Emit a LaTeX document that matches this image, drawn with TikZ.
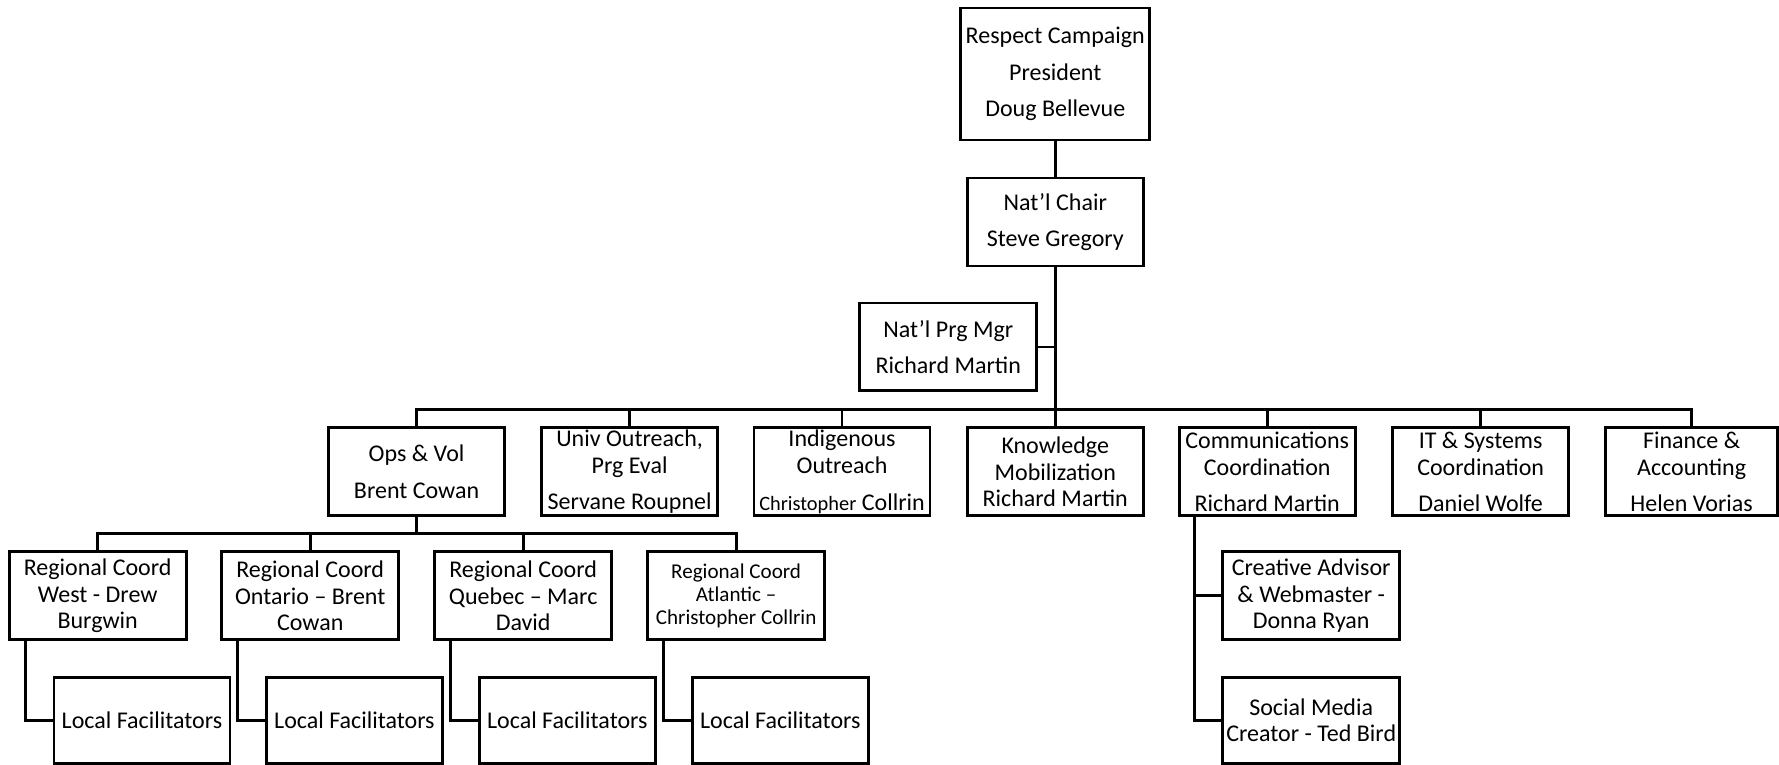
\documentclass[tikz,border=0pt]{standalone}
\usepackage{fontspec}
\setmainfont{Carlito}
\usepackage{tikz}
\tikzset{
  every picture/.style={line join=miter},
  orgbox/.style={draw, line width=0.8pt, inner sep=0pt, align=center, minimum width=1.76cm, minimum height=0.88cm, font=\fontsize{6.83pt}{7.6pt}\selectfont},
  link/.style={line width=0.8pt},
}

\begin{document}
\begin{tikzpicture}
\fill[white](0.000,0.000) rectangle (17.790,7.650);
% top of the chart
\node[orgbox,minimum width=1.89cm,minimum height=1.32cm] (pres) at (10.555,6.910) {Respect Campaign\\[2.8pt]President\\[2.8pt]Doug Bellevue};
\node[orgbox] (chair) at (10.555,5.430) {Nat’l Chair\\[2.8pt]Steve Gregory};
\node[orgbox,minimum width=1.77cm] (mgr) at (9.485,4.180) {Nat’l Prg Mgr\\[2.8pt]Richard Martin};
% second row
\node[orgbox] (ops) at (4.167,2.930) {Ops \& Vol\\[2.8pt]Brent Cowan};
\node[orgbox] (univ) at (6.297,2.930) {Univ Outreach,\\Prg Eval\\[2.8pt]Servane Roupnel};
\node[orgbox] (indig) at (8.422,2.930) {Indigenous\\Outreach\\[2.8pt]{\fontsize{5.8pt}{7.6pt}\selectfont Christopher} Collrin};
\node[orgbox] (know) at (10.555,2.930) {Knowledge\\Mobilization\\Richard Martin};
\node[orgbox] (comm) at (12.675,2.930) {Communications\\Coordination\\[2.8pt]Richard Martin};
\node[orgbox] (it) at (14.810,2.930) {IT \& Systems\\Coordination\\[2.8pt]Daniel Wolfe};
\node[orgbox,minimum width=1.72cm] (fin) at (16.920,2.930) {Finance \&\\Accounting\\[2.8pt]Helen Vorias};
% regions
\node[orgbox,minimum width=1.77cm] (west) at (0.977,1.690) {Regional Coord\\West - Drew\\Burgwin};
\node[orgbox,minimum width=1.77cm] (ont) at (3.103,1.690) {Regional Coord\\Ontario – Brent\\Cowan};
\node[orgbox,minimum width=1.77cm] (queb) at (5.233,1.690) {Regional Coord\\Quebec – Marc\\David};
\node[orgbox,minimum width=1.77cm,font=\fontsize{6pt}{6.6pt}\selectfont] (atl) at (7.363,1.690) {Regional Coord\\Atlantic –\\Christopher Collrin};
\node[orgbox,minimum height=0.86cm] (lfwest) at (1.420,0.445) {Local Facilitators};
\node[orgbox,minimum height=0.86cm] (lfont) at (3.545,0.445) {Local Facilitators};
\node[orgbox,minimum height=0.86cm] (lfqueb) at (5.675,0.445) {Local Facilitators};
\node[orgbox,minimum height=0.86cm] (lfatl) at (7.805,0.445) {Local Facilitators};
% communications team
\node[orgbox,minimum width=1.77cm] (creative) at (13.115,1.690) {Creative Advisor\\\& Webmaster -\\Donna Ryan};
\node[orgbox,minimum width=1.77cm,minimum height=0.86cm] (social) at (13.115,0.445) {Social Media\\Creator - Ted Bird};
% lines
\coordinate (bus) at (10.555,3.557);
\coordinate (subbus) at (4.167,2.310);
\draw[link] (pres) -- (chair);
\draw[link] (chair) -- (know);
\draw[link] (mgr.east) -- (mgr.east -| chair);
\draw[link] (ops.north) |- (bus) -| (fin.north);
\foreach \n in {univ,indig,comm,it} \draw[link] (\n.north) -- (\n.north |- bus);
\draw[link] (ops.south) -- (ops.south |- subbus);
\draw[link] (west.north) |- (subbus) -| (atl.north);
\foreach \n in {ont,queb} \draw[link] (\n.north) -- (\n.north |- subbus);
\foreach \r/\l in {west/lfwest,ont/lfont,queb/lfqueb,atl/lfatl}
  \draw[link] ([xshift=0.175cm]\r.south west) |- (\l.west);
\draw[link] ([xshift=0.17cm]comm.south west) |- (creative.west);
\draw[link] ([xshift=0.17cm]comm.south west) |- (social.west);
\end{tikzpicture}
\end{document}
